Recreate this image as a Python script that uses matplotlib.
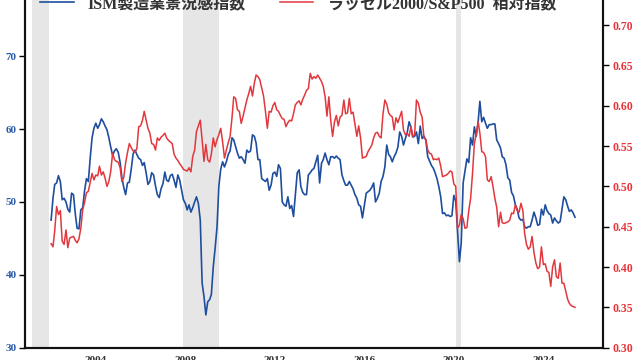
import matplotlib
matplotlib.use('Agg')
import matplotlib.pyplot as plt
import pandas as pd

# ISM manufacturing PMI, monthly from Jan 2002
ism_pmi = [
    47.5, 50.5, 52.4, 52.6, 53.6, 52.8, 50.3, 50.5, 50.0, 49.0, 48.6, 51.2,  # 2002
    51.0, 48.3, 46.4, 46.3, 48.9, 49.2, 51.5, 53.2, 52.8, 56.0, 58.8, 60.1,  # 2003
    60.8, 60.1, 60.6, 61.4, 61.0, 60.4, 59.9, 58.8, 57.5, 56.4, 57.0, 57.3,  # 2004
    56.8, 55.4, 53.4, 52.0, 51.0, 52.6, 52.7, 54.5, 56.6, 57.1, 56.5, 56.0,  # 2005
    55.8, 55.0, 55.4, 54.0, 52.4, 52.8, 54.0, 53.7, 52.2, 51.0, 50.6, 51.8,  # 2006
    52.5, 54.1, 53.0, 52.8, 53.6, 53.8, 53.0, 52.0, 53.7, 53.0, 51.6, 50.3,  # 2007
    49.8, 48.9, 49.6, 48.6, 49.2, 50.0, 50.7, 49.8, 47.5, 38.9, 37.0, 34.5,  # 2008
    36.3, 36.6, 37.3, 41.1, 43.6, 46.5, 52.1, 54.5, 55.5, 54.8, 55.5, 56.5,  # 2009
    57.0, 58.8, 58.5, 57.6, 56.7, 56.0, 56.2, 55.8, 55.3, 57.1, 56.8, 57.0,  # 2010
    59.2, 59.0, 58.1, 55.8, 55.8, 53.2, 53.0, 52.8, 53.2, 51.6, 52.3, 53.9,  # 2011
    54.1, 53.5, 55.1, 54.6, 50.0, 49.6, 49.4, 50.7, 49.1, 49.5, 48.0, 51.0,  # 2012
    54.0, 54.4, 52.1, 51.3, 51.0, 51.0, 53.7, 54.0, 54.4, 54.6, 55.5, 56.4,  # 2013
    52.6, 55.3, 55.8, 56.7, 55.8, 55.1, 56.2, 56.2, 56.0, 56.3, 56.0, 55.8,  # 2014
    53.7, 52.9, 52.3, 52.3, 52.8, 52.3, 51.8, 51.0, 50.5, 49.6, 49.4, 47.8,  # 2015
    49.5, 51.2, 51.4, 51.6, 52.0, 52.6, 50.0, 50.5, 51.2, 52.8, 53.5, 54.8,  # 2016
    57.8, 56.5, 56.2, 55.5, 56.2, 56.7, 57.5, 59.6, 59.0, 57.8, 58.7, 59.5,  # 2017
    61.0, 60.2, 58.9, 59.0, 59.6, 58.0, 60.4, 58.7, 59.0, 58.5, 56.2, 55.6,  # 2018
    55.0, 54.6, 54.0, 53.2, 52.1, 50.7, 48.4, 48.5, 48.1, 48.2, 48.0, 48.1,  # 2019
    50.9, 50.1, 46.0, 41.8, 44.4, 52.6, 54.2, 55.9, 55.4, 58.8, 57.8, 60.3,  # 2020
    59.0, 61.0, 63.8, 61.0, 61.6, 60.8, 60.1, 60.6, 60.6, 60.7, 60.7, 58.5,  # 2021
    58.0, 57.4, 56.2, 56.0, 55.1, 53.3, 53.0, 51.3, 50.8, 49.6, 49.0, 47.8,  # 2022
    47.5, 47.6, 46.6, 46.4, 46.6, 46.6, 47.5, 48.6, 47.8, 46.8, 46.9, 49.0,  # 2023
    48.2, 49.6, 48.8, 48.4, 48.2, 47.1, 47.8, 47.4, 47.1, 47.3, 49.0, 50.7,  # 2024
    50.3, 49.4, 48.7, 48.9, 48.5, 47.9,                                      # 2025
]

# Russell 2000 / S&P 500 ratio, monthly from Jan 2002
rs_ratio = [
    0.429, 0.425, 0.445, 0.475, 0.465, 0.470, 0.432, 0.428, 0.446, 0.424, 0.436, 0.437,  # 2002
    0.438, 0.433, 0.430, 0.435, 0.448, 0.471, 0.480, 0.492, 0.494, 0.505, 0.516, 0.508,  # 2003
    0.514, 0.513, 0.525, 0.514, 0.518, 0.510, 0.500, 0.506, 0.519, 0.541, 0.533, 0.531,  # 2004
    0.530, 0.523, 0.506, 0.511, 0.529, 0.542, 0.553, 0.548, 0.544, 0.542, 0.547, 0.574,  # 2005
    0.575, 0.582, 0.593, 0.582, 0.572, 0.566, 0.553, 0.552, 0.545, 0.560, 0.557, 0.561,  # 2006
    0.563, 0.566, 0.560, 0.557, 0.555, 0.553, 0.540, 0.535, 0.532, 0.528, 0.525, 0.521,  # 2007
    0.520, 0.519, 0.523, 0.518, 0.537, 0.545, 0.568, 0.575, 0.582, 0.558, 0.531, 0.552,  # 2008
    0.533, 0.530, 0.540, 0.560, 0.549, 0.558, 0.564, 0.572, 0.555, 0.535, 0.545, 0.554,  # 2009
    0.562, 0.585, 0.611, 0.609, 0.595, 0.593, 0.578, 0.587, 0.597, 0.607, 0.615, 0.624,  # 2010
    0.612, 0.628, 0.638, 0.636, 0.632, 0.622, 0.612, 0.593, 0.572, 0.593, 0.592, 0.600,  # 2011
    0.604, 0.595, 0.593, 0.588, 0.584, 0.583, 0.574, 0.579, 0.582, 0.581, 0.590, 0.601,  # 2012
    0.604, 0.606, 0.601, 0.608, 0.613, 0.619, 0.621, 0.640, 0.633, 0.636, 0.634, 0.638,  # 2013
    0.634, 0.630, 0.624, 0.611, 0.587, 0.611, 0.582, 0.562, 0.580, 0.588, 0.575, 0.586,  # 2014
    0.588, 0.607, 0.590, 0.591, 0.609, 0.590, 0.592, 0.577, 0.562, 0.575, 0.560, 0.535,  # 2015
    0.536, 0.537, 0.543, 0.547, 0.551, 0.560, 0.566, 0.567, 0.562, 0.560, 0.590, 0.607,  # 2016
    0.602, 0.591, 0.588, 0.586, 0.570, 0.585, 0.579, 0.586, 0.593, 0.570, 0.564, 0.566,  # 2017
    0.562, 0.574, 0.562, 0.564, 0.607, 0.603, 0.592, 0.586, 0.560, 0.558, 0.545, 0.541,  # 2018
    0.540, 0.533, 0.534, 0.533, 0.535, 0.525, 0.512, 0.513, 0.514, 0.516, 0.519, 0.518,  # 2019
    0.503, 0.500, 0.448, 0.452, 0.465, 0.460, 0.448, 0.449, 0.470, 0.485, 0.516, 0.553,  # 2020
    0.565, 0.580, 0.566, 0.543, 0.542, 0.537, 0.508, 0.506, 0.512, 0.500, 0.485, 0.474,  # 2021
    0.450, 0.468, 0.455, 0.454, 0.455, 0.456, 0.458, 0.467, 0.466, 0.477, 0.470, 0.468,  # 2022
    0.479, 0.470, 0.442, 0.428, 0.422, 0.425, 0.438, 0.418, 0.405, 0.398, 0.400, 0.425,  # 2023
    0.403, 0.404, 0.395, 0.393, 0.376, 0.400, 0.409, 0.388, 0.386, 0.405, 0.380, 0.380,  # 2024
    0.370, 0.360, 0.355, 0.352, 0.351, 0.350,                                            # 2025
]

recessions = [('2001-03-01', '2001-11-30'), ('2007-12-01', '2009-06-30'), ('2020-02-01', '2020-04-30')]
year_ticks = [2004, 2008, 2012, 2016, 2020, 2024]

BLUE = '#1f4e9e'
RED = '#e2383d'
TICK_BLUE = '#2a5aa8'
TICK_RED = '#e8353b'
SERIF = ['Liberation Serif', 'Noto Sans CJK JP']

dates = pd.date_range('2002-01-01', periods=len(ism_pmi), freq='MS')

fig = plt.figure(figsize=(6.4, 3.6), dpi=100)
ax = fig.add_axes([25/640, 12.3/360, 578/640, 347.7/360])
ax2 = ax.twinx()

for start, end in recessions:
    ax.axvspan(pd.Timestamp(start), pd.Timestamp(end), color='#e6e6e6', lw=0, zorder=0)

l1, = ax.plot(dates, ism_pmi, color=BLUE, lw=1.2, label='ISM製造業景況感指数')
l2, = ax2.plot(dates, rs_ratio, color=RED, lw=1.1, label='ラッセル2000/S&P500  相対指数')

ax.set_xlim(pd.Timestamp('2000-11-01'), pd.Timestamp('2026-09-01'))
ax.set_ylim(30, 77.7)
ax2.set_ylim(0.30, 0.731)

ax.set_yticks([30, 40, 50, 60, 70])
ax2.set_yticks([0.30, 0.35, 0.40, 0.45, 0.50, 0.55, 0.60, 0.65, 0.70])
ax2.set_yticklabels(['%.2f' % v for v in ax2.get_yticks()])
ax.set_xticks([pd.Timestamp('%d-01-01' % y) for y in year_ticks])
ax.set_xticklabels([str(y) for y in year_ticks])

for a in (ax, ax2):
    for s in ('top',):
        a.spines[s].set_visible(False)
    for s in ('left', 'right', 'bottom'):
        a.spines[s].set_linewidth(1.5)
        a.spines[s].set_color('#111111')

ax.tick_params(axis='y', length=4, width=1, pad=2, labelsize=8, labelcolor=TICK_BLUE)
ax2.tick_params(axis='y', length=4, width=1, pad=3, labelsize=8.5, labelcolor=TICK_RED)
ax.tick_params(axis='x', length=0, pad=6, labelsize=8, labelcolor='#333333')
for lab in ax.get_yticklabels() + ax2.get_yticklabels() + ax.get_xticklabels():
    lab.set_family(SERIF)
    lab.set_fontweight('bold')

leg = fig.legend(handles=[l1, l2], loc='center left', bbox_to_anchor=(40/640, 1 - 4/360),
                 ncol=2, frameon=False, borderpad=0, borderaxespad=0,
                 handlelength=2.1, handletextpad=0.9, columnspacing=2.1,
                 prop={'family': SERIF, 'weight': 'bold', 'size': 11.5})
for t in leg.get_texts():
    t.set_color('#333333')

fig.savefig('out.png', dpi=100)
